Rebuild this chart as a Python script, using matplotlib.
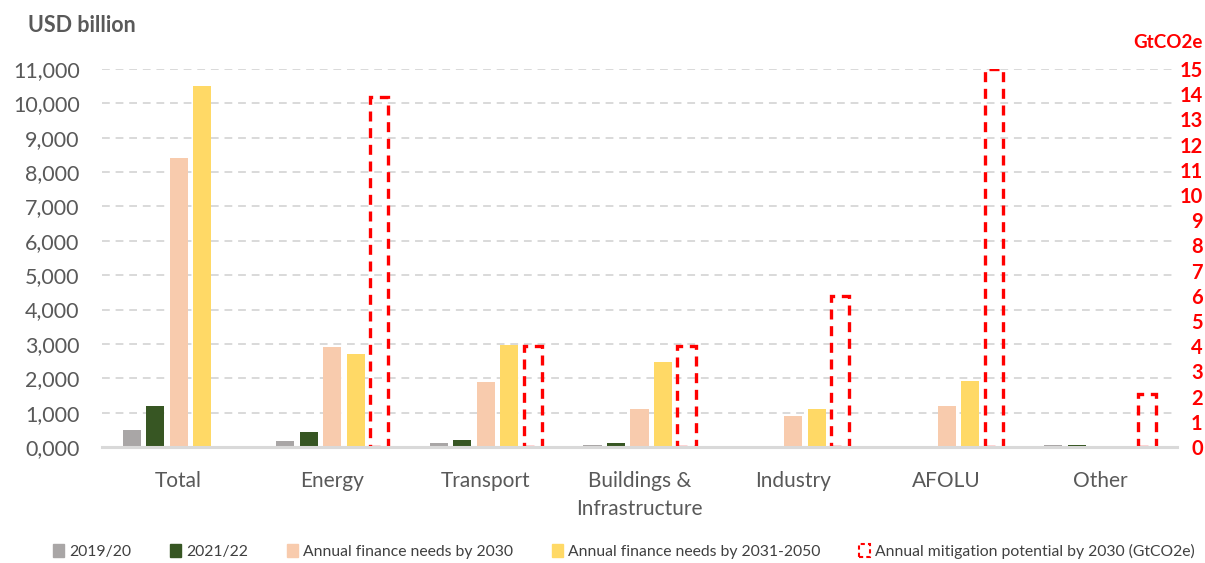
import matplotlib
matplotlib.use('Agg')
import matplotlib.pyplot as plt
import numpy as np
from matplotlib.patches import Rectangle

plt.rcParams['font.family'] = ['Lato', 'DejaVu Sans']

categories = ["Total", "Energy", "Transport", "Buildings &\nInfrastructure",
              "Industry", "AFOLU", "Other"]
flows_2019_20 = [500, 180, 110, 60, 0, 0, 60]
flows_2021_22 = [1200, 440, 200, 110, 0, 0, 60]
needs_2030 = [8400, 2910, 1890, 1100, 900, 1190, 0]
needs_2031_2050 = [10500, 2700, 2970, 2470, 1100, 1920, 0]
mitigation_2030 = [np.nan, 13.9, 4.0, 4.0, 6.0, 15.0, 2.1]

left_ticks = list(range(0, 11001, 1000))
left_tick_labels = ["0,000", "1,000", "2,000", "3,000", "4,000", "5,000", "6,000",
                    "7,000", "8,000", "9,000", "10,000", "11,000"]
right_ticks = list(range(0, 16))

series_labels = ["2019/20", "2021/22", "Annual finance needs by 2030",
                 "Annual finance needs by 2031-2050",
                 "Annual mitigation potential by 2030 (GtCO2e)"]
colors = ["#A9A6A6", "#375623", "#F8CBAD", "#FFD966"]
red = "#FF0000"
txt = "#595959"

fig = plt.figure(figsize=(12.05, 5.63), dpi=100)
ax = fig.add_axes([0.0846, 0.206, 0.8922, 0.6714])
ax2 = ax.twinx()

x = np.arange(len(categories))
step = 0.153
w = 0.118
for i, (vals, c) in enumerate(zip([flows_2019_20, flows_2021_22, needs_2030, needs_2031_2050], colors)):
    ax.bar(x + (i - 2) * step, vals, width=w, color=c, zorder=3, label=series_labels[i])

ax2.bar(x + 2 * step, mitigation_2030, width=w, fill=False, edgecolor=red,
        linewidth=2.4, linestyle=(0, (3.0, 2.0)), zorder=3, label=series_labels[4])

ax.set_xlim(-0.5, len(categories) - 0.5)
ax.set_ylim(0, 11000)
ax2.set_ylim(0, 15)

ax.set_yticks(left_ticks)
ax.set_yticklabels(left_tick_labels)
ax2.set_yticks(right_ticks)
ax2.set_yticklabels([str(t) for t in right_ticks])

ax.yaxis.grid(True, color="#D9D9D9", linestyle=(0, (4, 3)), linewidth=1.4, zorder=0)
ax.set_axisbelow(True)
ax.set_xticks(x)
ax.set_xticklabels(categories, fontsize=15, color=txt, linespacing=1.5)
ax.tick_params(axis='x', length=0, pad=17)
ax.tick_params(axis='y', length=0, pad=16, labelsize=15.5, labelcolor=txt)
ax2.tick_params(axis='y', length=0, pad=18.5, labelsize=14.5, labelcolor=red)
for lab in ax2.get_yticklabels():
    lab.set_fontweight('bold')
    lab.set_horizontalalignment('right')

for a in (ax, ax2):
    for s in a.spines.values():
        s.set_visible(False)
ax2.axhline(0, color="#D9D9D9", linewidth=2.2, zorder=5, clip_on=False)

fig.text(0.023, 0.955, "USD billion", fontsize=15.5, fontweight='bold', color=txt,
         ha='left', va='center')
fig.text(0.998, 0.924, "GtCO2e", fontsize=13.5, fontweight='bold', color=red,
         ha='right', va='center')

handles = [Rectangle((0, 0), 1, 1, color=c) for c in colors]
handles.append(Rectangle((0, 0), 1, 1, fill=False, edgecolor=red, linewidth=1.5,
                         linestyle=(0, (2, 1.5))))
leg = fig.legend(handles, series_labels, loc='center', bbox_to_anchor=(0.518, 0.02),
                 ncol=5, frameon=False, fontsize=11.3, handlelength=0.7, handleheight=0.9,
                 handletextpad=0.3, columnspacing=2.5, borderaxespad=0)
for t in leg.get_texts():
    t.set_color("#404040")

fig.savefig("out.png", dpi=100)
